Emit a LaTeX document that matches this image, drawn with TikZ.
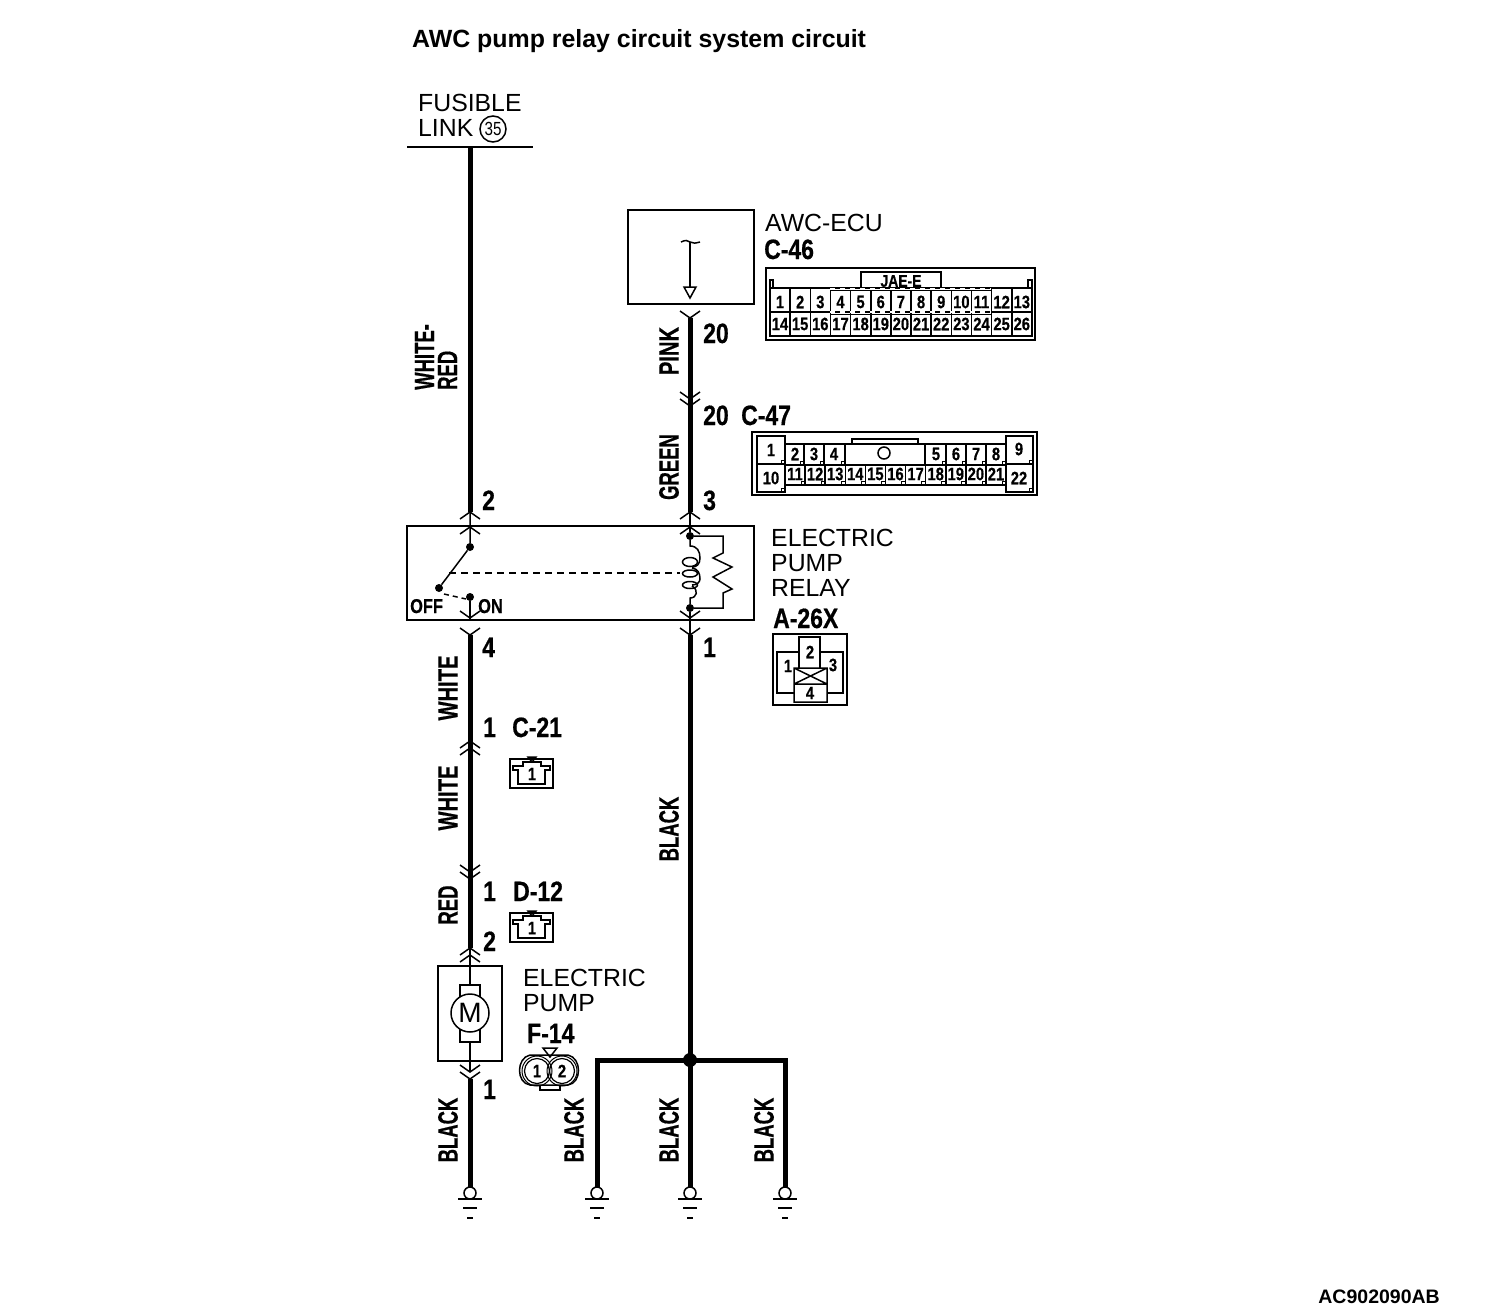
\documentclass[tikz,border=0pt]{standalone}
\usepackage{fontspec}
\setmainfont{Liberation Sans}
\newfontfamily\narfont[FakeStretch=0.66,FakeBold=0.5]{Liberation Sans}
\newfontfamily\narwfont[FakeStretch=0.72,FakeBold=0.5]{Liberation Sans}
\newfontfamily\pinfont[FakeStretch=0.82,FakeBold=0.5]{Liberation Sans}
\newfontfamily\thinfont[FakeStretch=0.8]{Liberation Sans}
\newcommand{\lblfont}{\fontsize{28}{23}\selectfont\narfont\bfseries}
\newcommand{\lblwfont}{\fontsize{28}{23}\selectfont\narwfont\bfseries}
\newcommand{\pnfont}{\fontsize{28}{28}\selectfont\pinfont\bfseries}
\newcommand{\cellfont}{\fontsize{18}{18}\selectfont\pinfont\bfseries}
\tikzset{
  wire/.style={line width=5pt},
  thinw/.style={line width=1.5pt},
  boxl/.style={line width=2pt},
  capt/.style={inner sep=0pt,anchor=north west,align=left,font=\fontsize{24.8}{25}\selectfont},
  wirelbl/.style={inner sep=0pt,rotate=90,font=\lblfont},
  pinlbl/.style={inner sep=0pt,anchor=base west,font=\pnfont},
  cell/.style={inner sep=0pt,font=\cellfont},
  dot/.style={fill=black,circle,inner sep=0pt,minimum size=8pt},
  chevup/.pic={\draw[thinw] (-10,7) -- (0,0) -- (10,7);},
  chevdown/.pic={\draw[thinw] (-10,-7) -- (0,0) -- (10,-7);},
  gnd/.pic={
    \draw[thinw,fill=white] (0,0) circle (6);
    \draw[thinw] (-12,6) -- (12,6) (-7,15) -- (7,15) (-3,25) -- (3,25);}
}
\begin{document}
\begin{tikzpicture}[x=1pt,y=-1pt]
\useasboundingbox (0,0) rectangle (1504,1312);
\node[inner sep=0pt,anchor=base west,font=\fontsize{24.9}{24.9}\selectfont\bfseries] (title) at (412,47) {AWC pump relay circuit system circuit};
\node[inner sep=0pt,anchor=base east,font=\fontsize{19.5}{19.5}\selectfont\bfseries] (code) at (1440,1303) {AC902090AB};
% left branch
\node[capt] (fusible) at (418,94) {FUSIBLE\\LINK};
\node[circle,draw,line width=1.5pt,minimum size=26pt,inner sep=0pt,font=\fontsize{19}{19}\selectfont\thinfont] (fl35) at (493,129) {35};
\coordinate (busl) at (407,147); \coordinate (busr) at (533,147);
\draw[line width=2.5pt] (busl) -- (busr);
\coordinate (fuse) at (470,147);
\coordinate (swtop) at (470,512);
\coordinate (swbot) at (470,635);
\coordinate (c21) at (470,748);
\coordinate (d12) at (470,879);
\coordinate (mtop) at (470,948);
\coordinate (mbot) at (470,1079);
\coordinate (gnda) at (470,1193);
\draw[wire] (fuse) -- (swtop);
\draw[wire] (swbot) -- (mtop);
\draw[wire] (mbot) -- (gnda);
% right branch
\coordinate (ecub) at (690,318);
\coordinate (rltop) at (690,512);
\coordinate (rlbot) at (690,635);
\coordinate (junc) at (690,1060);
\coordinate (gndb) at (690,1193);
\coordinate (gndl) at (597,1193);
\coordinate (gndr) at (785,1193);
\draw[wire] (ecub) -- (rltop);
\draw[wire] (rlbot) -- (gndb);
\draw[wire] (gndl) |- (junc) -| (gndr);
\node[circle,fill=black,inner sep=0pt,minimum size=14pt] (jdot) at (junc) {};
\foreach \x in {470,597,690,785}
  \pic at (\x,1193) {gnd};
% chevrons
\foreach \x/\y in {470/512,470/527,690/512,690/527,470/741,470/748,470/948,470/955}
  \pic at (\x,\y) {chevup};
\foreach \x/\y in {690/318,690/399,690/406,470/618,470/635,690/618,690/635,470/872,470/879,470/1072,470/1079}
  \pic at (\x,\y) {chevdown};
% relay
\node[draw,boxl,minimum width=347pt,minimum height=94pt,inner sep=0pt] (relay) at (580.5,573) {};
\node[dot] (swa) at (470,547) {};
\node[dot] (swb) at (439,588) {};
\node[dot] (swc) at (470,597) {};
\node[dot] (cla) at (690,536) {};
\node[dot] (clb) at (690,608) {};
\draw[thinw] (swtop) -- (swa) -- (swb);
\draw[thinw] (swc) -- (470,620);
\draw[thinw,dash pattern=on 7pt off 5pt] (449,573) -- (680,573);
\draw[thinw,dash pattern=on 5pt off 4pt] (444,594) -- (466,599);
\draw[thinw] (rltop) -- (cla) (clb) -- (rlbot);
\draw[thinw] (cla) -- (690,546) .. controls (697,546) and (700,551) .. (700,558) .. controls (700,564) and (697,567) .. (692,567)
  (692,568) .. controls (698,569) and (700,573) .. (700,579) .. controls (700,582) and (697,585) .. (692,585)
  (692,586) .. controls (699,590) and (697,598) .. (690,598) -- (clb);
\draw[thinw] (690,562) ellipse (7.5 and 4.5) (690,573.5) ellipse (7.5 and 3.5) (690,585) ellipse (7.5 and 3.5);
\draw[thinw] (cla) -| (723,553) -- (713,558) -- (732,567) -- (713,577) -- (732,589) -- (723,593) |- (clb);
\node[inner sep=0pt,anchor=base west,font=\fontsize{20}{20}\selectfont\pinfont\bfseries] (off) at (410,613) {OFF};
\node[inner sep=0pt,anchor=base west,font=\fontsize{20}{20}\selectfont\pinfont\bfseries] (on) at (478,613) {ON};
% ecu
\node[draw,boxl,minimum width=126pt,minimum height=94pt,inner sep=0pt] (ecu) at (691,257) {};
\draw[thinw] (681,242) .. controls (685,240) and (688,240) .. (690,242) .. controls (693,244) and (696,243) .. (700,242);
\draw[thinw] (690,242) -- (690,287);
\draw[thinw] (684,287) -- (696,287) -- (690,298) -- cycle;
% wire colours
\node[wirelbl,align=left,anchor=west] (wr) at (436,390) {WHITE-\\RED};
\node[wirelbl,font=\lblwfont] (pk) at (669,351) {PINK};
\node[wirelbl] (gn) at (669,467) {GREEN};
\node[wirelbl,font=\lblwfont] (wha) at (448,688) {WHITE};
\node[wirelbl,font=\lblwfont] (whb) at (448,798) {WHITE};
\node[wirelbl] (rd) at (448,905) {RED};
\node[wirelbl] (bka) at (448,1130) {BLACK};
\node[wirelbl] (bkb) at (574,1130) {BLACK};
\node[wirelbl] (bkc) at (669,1130) {BLACK};
\node[wirelbl] (bkd) at (764,1130) {BLACK};
\node[wirelbl] (bke) at (669,829) {BLACK};
% pins
\node[pinlbl] (p20a) at (703,343) {20};
\node[pinlbl] (p20b) at (703,425) {20};
\node[pinlbl] (c47l) at (741,425) {C-47};
\node[pinlbl] (p2) at (482,510) {2};
\node[pinlbl] (p3) at (703,510) {3};
\node[pinlbl] (p4) at (482,657) {4};
\node[pinlbl] (p1) at (703,657) {1};
\node[pinlbl] (pa1) at (483,737) {1};
\node[pinlbl] (c21l) at (512,737) {C-21};
\node[pinlbl] (pb1) at (483,901) {1};
\node[pinlbl] (d12l) at (513,901) {D-12};
\node[pinlbl] (pb2) at (483,951) {2};
\node[pinlbl] (pc1) at (483,1099) {1};
\node[pinlbl] (f14l) at (527,1043) {F-14};
\node[pinlbl] (c46l) at (764,259) {C-46};
\node[pinlbl] (a26l) at (773,628) {A-26X};
% captions
\node[capt] (ecucap) at (765,214) {AWC-ECU};
\node[capt] (relcap) at (771,529) {ELECTRIC\\PUMP\\RELAY};
\node[capt] (pumpcap) at (523,969) {ELECTRIC\\PUMP};
% connector C-46
\draw[boxl] (766,268) rectangle (1035,340);
\draw[boxl] (861,288) |- (941,272) -- (941,288);
\node[cell,font=\fontsize{17}{17}\selectfont\pinfont\bfseries] (jae) at (901,281) {JAE-E};
\draw[thinw] (770,288) |- (773,280) -- (773,288) (1028,288) |- (1032,280) -- (1032,288);
\draw[thinw] (770,288) rectangle (1032,336) (770,312) -- (1032,312);
\foreach \n in {1,...,13} {
  \pgfmathsetmacro{\cx}{770+20.15*(\n-1)}
  \draw[thinw] (\cx,288) -- (\cx,336);
  \node[cell] (ca\n) at (\cx+10,302) {\n};
  \pgfmathtruncatemacro{\m}{\n+13}
  \node[cell] (cb\n) at (\cx+10,324) {\m};
}
\draw[thinw,white,dash pattern=on 5pt off 5pt] (830,289) -- (991,289) (830,312) -- (991,312);
\draw[line width=1pt] (830,290.5) -- (991,290.5) (830,314) -- (991,314);
% connector C-47
\draw[boxl] (752,432) rectangle (1037,495);
\draw[thinw] (757,436) rectangle (785,492) (757,464) -- (785,464);
\draw[thinw] (1006,436) rectangle (1033,492) (1006,464) -- (1033,464);
\draw[thinw] (785,444) -- (1006,444) (785,465) -- (1006,465) (785,485) -- (1006,485);
\draw[thinw] (852,444) |- (918,439) -- (918,444);
\node[draw,thinw,circle,minimum size=12pt,inner sep=0pt] (hole) at (884,453) {};
\foreach \x in {804,824,845,925,946,966,986}
  \draw[thinw] (\x,444) -- (\x,465);
\foreach \n in {1,...,10} {
  \pgfmathsetmacro{\cx}{785+20.1*\n}
  \draw[thinw] (\cx,465) -- (\cx,485);
}
\foreach \x in {804,824,845,946,966,986,1006}
  \draw[line width=1pt] (\x-4,461) rectangle (\x,465);
\foreach \n in {1,...,11} {
  \pgfmathsetmacro{\cx}{785+20.1*\n}
  \draw[line width=1pt] (\cx-4,481) rectangle (\cx,485);
}
\foreach \x/\y in {781/460,781/488,1029/460,1029/488}
  \draw[line width=1pt] (\x,\y) rectangle (\x+4,\y+4);
\foreach \x/\n in {795/2,814/3,834/4,936/5,956/6,976/7,996/8}
  \node[cell] (d\n) at (\x,454) {\n};
\foreach \n in {11,...,21} {
  \pgfmathsetmacro{\cx}{785+20.1*(\n-11)+10}
  \node[cell] (d\n) at (\cx,474) {\n};
}
\node[cell] (d1) at (771,450) {1};
\node[cell] (d10) at (771,478) {10};
\node[cell] (d9) at (1019,449) {9};
\node[cell] (d22) at (1019,478) {22};
% connector A-26X
\draw[boxl] (773,634) rectangle (847,705);
\draw[thinw] (799,668) |- (820,637) -- (820,668);
\draw[thinw] (794,652) -| (777,693) -- (794,693) (827,652) -| (843,693) -- (827,693);
\draw[thinw] (794,668) rectangle (827,702) (794,684) -- (827,684) (794,668) -- (827,684) (794,684) -- (827,668);
\draw[thinw] (799,652) -- (794,652) (820,652) -- (827,652);
\node[cell] (r2) at (810,652) {2};
\node[cell] (r1) at (788,666) {1};
\node[cell] (r3) at (833,665) {3};
\node[cell] (r4) at (810,693) {4};
% connector C-21, D-12
\foreach \nm/\x/\y in {e/510/759,f/510/913} {
  \begin{scope}[shift={(\x,\y)}]
  \draw[boxl] (0,0) rectangle (43,29);
  \draw[thinw] (18,-2) -- (26,-2) -- (22,3) -- cycle;
  \draw[thinw] (13,7) -- (13,3) -- (31,3) -- (31,7) -- (40,7) -- (40,11) -- (35,11) -- (35,25) -- (8,25) -- (8,11) -- (3,11) -- (3,7) -- cycle;
  \node[cell] (\nm1) at (22,15) {1};
  \end{scope}
}
% connector F-14
\draw[thinw] (530,1055) .. controls (516,1058) and (516,1083) .. (530,1085) -- (568,1085) .. controls (582,1083) and (582,1058) .. (568,1055) -- cycle;
\draw[thinw] (540,1085) -- (540,1090) -- (560,1090) -- (560,1085);
\draw[thinw] (543,1048) -- (557,1048) -- (550,1057) -- cycle;
\node[draw,line width=1.2pt,circle,minimum size=25pt,inner sep=0pt,font=\cellfont] (f1) at (537,1071) {1};
\node[draw,line width=1.2pt,circle,minimum size=25pt,inner sep=0pt,font=\cellfont] (f2) at (562,1071) {2};
\draw[line width=1pt] (537,1071) circle (15) (562,1071) circle (15);
% pump
\node[draw,boxl,minimum width=64pt,minimum height=95pt,inner sep=0pt] (pump) at (470,1013.5) {};
\draw[thinw] (mtop) -- (470,985) (470,1042) -- (470,1072);
\draw[thinw] (460,985) rectangle (480,1042);
\node[draw,thinw,fill=white,circle,minimum size=38pt,inner sep=0pt,font=\fontsize{28}{28}\selectfont] (mot) at (470,1013) {M};
\end{tikzpicture}
\end{document}
